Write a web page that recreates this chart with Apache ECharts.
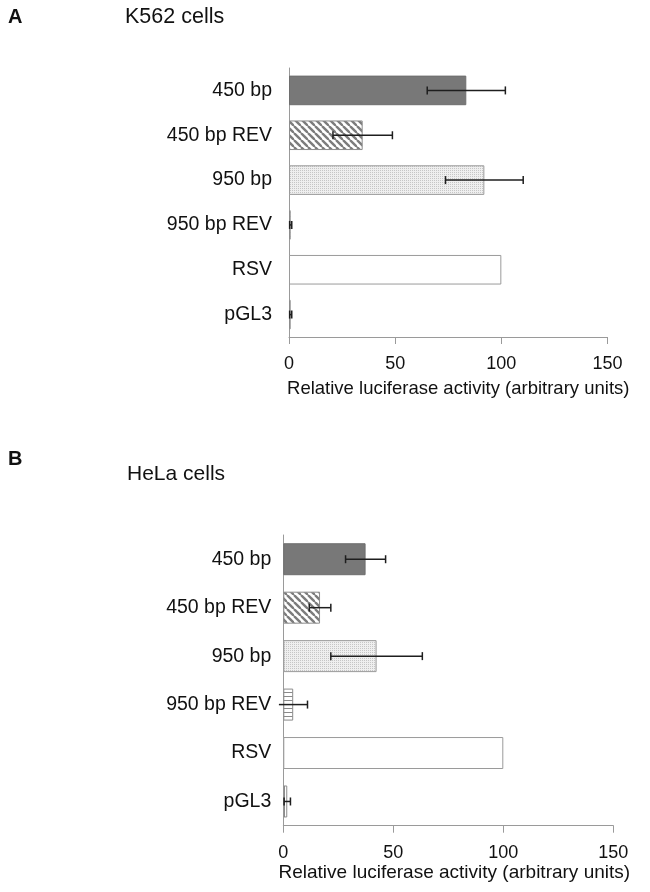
<!DOCTYPE html>
<html>
<head>
<meta charset="utf-8">
<script src="https://cdn.jsdelivr.net/npm/echarts@6/dist/echarts.min.js"></script>
<style>html,body{margin:0;padding:0;background:#fff}#c{width:650px;height:892px}</style>
</head>
<body>
<div id="c"></div>
<script>
const categories = ['450 bp', '450 bp REV', '950 bp', '950 bp REV', 'RSV', 'pGL3'];
const k562Values = [83.5, 34.7, 92, 0.8, 100, 0.8];
const k562Errors = [18.4, 14, 18.3, 0.5, 0, 0.5];
const helaValues = [37.4, 16.7, 42.4, 4.5, 100, 1.8];
const helaErrors = [9.1, 4.9, 20.8, 6.5, 0, 1.45];
const xTicks = [0, 50, 100, 150];
const panelLetters = ['A', 'B'];
const panelTitles = ['K562 cells', 'HeLa cells'];
const axisTitle = 'Relative luciferase activity (arbitrary units)';

const FONT = '"Liberation Sans", Arial, Helvetica, sans-serif';
const TXT = '#111';
const AX = '#9a9a9a';

function pattern(w, h, bg, draw) {
  const c = document.createElement('canvas');
  c.width = w; c.height = h;
  const ctx = c.getContext('2d');
  ctx.fillStyle = bg; ctx.fillRect(0, 0, w, h);
  draw(ctx, w, h);
  return { image: c, repeat: 'repeat' };
}
const diag = pattern(7, 7, '#ffffff', (ctx, w, h) => {
  ctx.strokeStyle = '#7c7c7c'; ctx.lineWidth = 2.4;
  for (let x0 = -w; x0 <= w; x0 += w) {
    ctx.beginPath(); ctx.moveTo(x0, 0); ctx.lineTo(x0 + w, h); ctx.stroke();
  }
});
const dots = pattern(2, 2, '#efefef', (ctx) => {
  ctx.fillStyle = '#c6c6c6'; ctx.fillRect(0, 0, 1, 1);
});
const hstripes = pattern(4, 4, '#ffffff', (ctx) => {
  ctx.fillStyle = '#8a8a8a'; ctx.fillRect(0, 0, 4, 1);
});
const vstripes = pattern(4, 4, '#ffffff', (ctx) => {
  ctx.fillStyle = '#8a8a8a'; ctx.fillRect(0, 0, 1, 4);
});
const barStyles = [
  { color: '#787878', borderColor: '#6e6e6e', borderWidth: 1 },
  { color: diag, borderColor: '#8c8c8c', borderWidth: 1 },
  { color: dots, borderColor: '#9a9a9a', borderWidth: 1 },
  { color: hstripes, borderColor: '#8c8c8c', borderWidth: 1 },
  { color: '#ffffff', borderColor: '#9a9a9a', borderWidth: 1 },
  { color: vstripes, borderColor: '#8c8c8c', borderWidth: 1 }
];

const grids = [
  { left: 289, top: 68, width: 318.5, height: 269 },
  { left: 283.3, top: 535, width: 330, height: 290.7 }
];
const nameGaps = [42, 33];
const nameSizes = [18.5, 19];
const namePads = [[0, 0, 0, 20], [0, 0, 0, 12]];
const catMargins = [17, 12];

function renderErr(params, api) {
  const lo = api.value(0), hi = api.value(1), cat = api.value(2);
  const p1 = api.coord([lo, cat]);
  const p2 = api.coord([hi, cat]);
  const h = 4;
  const st = { stroke: '#1e1e1e', lineWidth: 1.5 };
  const children = [
    { type: 'line', shape: { x1: p1[0], y1: p1[1], x2: p2[0], y2: p2[1] }, style: st },
    { type: 'line', shape: { x1: p2[0], y1: p2[1] - h, x2: p2[0], y2: p2[1] + h }, style: st }
  ];
  if (lo >= 0) children.push({ type: 'line', shape: { x1: p1[0], y1: p1[1] - h, x2: p1[0], y2: p1[1] + h }, style: st });
  return { type: 'group', children };
}

const sets = [[k562Values, k562Errors], [helaValues, helaErrors]];
const series = [];
const xAxis = [], yAxis = [];
sets.forEach(([vals, errs], gi) => {
  xAxis.push({
    gridIndex: gi, type: 'value', min: xTicks[0], max: xTicks[xTicks.length - 1],
    interval: xTicks[1] - xTicks[0],
    axisLine: { show: true, lineStyle: { color: AX, width: 1 } },
    axisTick: { show: true, inside: false, length: 7, lineStyle: { color: AX } },
    splitLine: { show: false },
    axisLabel: { color: TXT, fontSize: 18, fontFamily: FONT, margin: 18.5 },
    name: axisTitle, nameLocation: 'middle', nameGap: nameGaps[gi],
    nameTextStyle: { color: TXT, fontSize: nameSizes[gi], fontFamily: FONT, padding: namePads[gi] }
  });
  yAxis.push({
    gridIndex: gi, type: 'category', data: categories, inverse: true,
    axisLine: { show: true, lineStyle: { color: AX, width: 1 } },
    axisTick: { show: false },
    axisLabel: { color: TXT, fontSize: 19.5, fontFamily: FONT, margin: catMargins[gi] }
  });
  series.push({
    type: 'bar', xAxisIndex: gi, yAxisIndex: gi, barWidth: '66%',
    data: vals.map((v, i) => ({ value: v, itemStyle: barStyles[i] })),
    silent: true, animation: false
  });
  series.push({
    type: 'custom', xAxisIndex: gi, yAxisIndex: gi, renderItem: renderErr,
    encode: { x: [0, 1], y: 2 },
    data: vals.map((v, i) => [v - errs[i], v + errs[i], i]).filter((d, i) => errs[i] > 0),
    clip: false, silent: true, animation: false, z: 5
  });
});

const titles = [
  { text: panelLetters[0], left: 8, top: 7, textStyle: { fontSize: 20, fontWeight: 'bold', fontFamily: FONT, color: TXT } },
  { text: panelTitles[0], left: 125, top: 6, textStyle: { fontSize: 21.5, fontWeight: 'normal', fontFamily: FONT, color: TXT } },
  { text: panelLetters[1], left: 8, top: 449, textStyle: { fontSize: 20, fontWeight: 'bold', fontFamily: FONT, color: TXT } },
  { text: panelTitles[1], left: 127, top: 464, textStyle: { fontSize: 21, fontWeight: 'normal', fontFamily: FONT, color: TXT } }
].map(t => Object.assign({ padding: 0 }, t));

const chart = echarts.init(document.getElementById('c'), null, { renderer: 'canvas' });
chart.setOption({
  backgroundColor: '#ffffff',
  animation: false,
  title: titles,
  grid: grids,
  xAxis, yAxis, series
});
</script>
</body>
</html>
